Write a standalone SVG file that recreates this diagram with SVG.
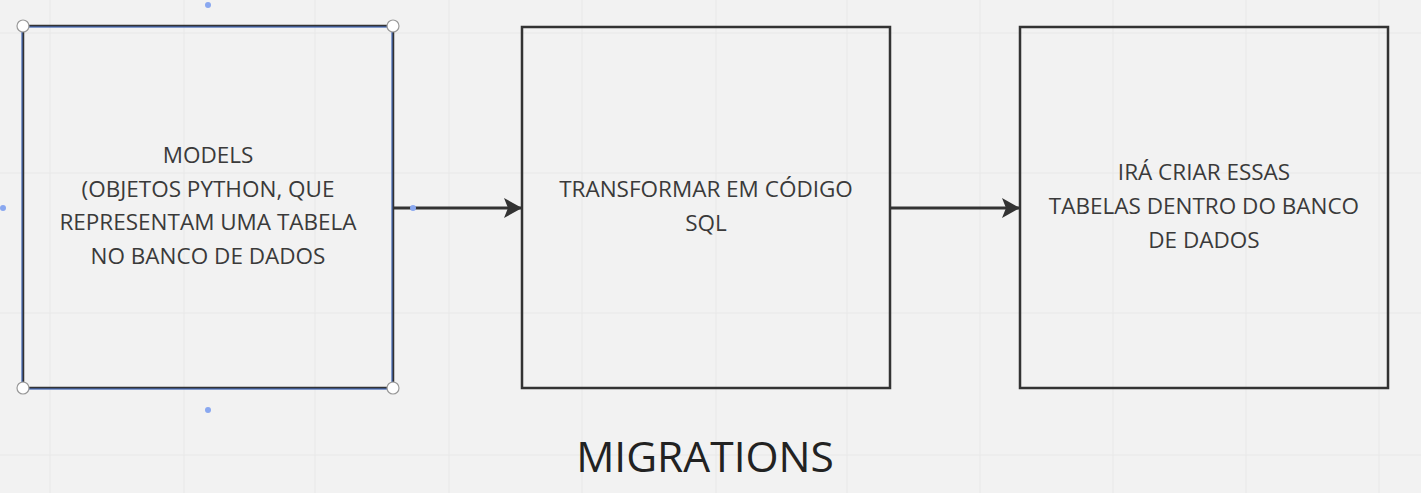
<svg xmlns="http://www.w3.org/2000/svg" width="1421" height="493" viewBox="0 0 1421 493">
<defs>
<style>
.grid line{stroke:#e8e8e8;stroke-width:1}
.box{fill:none;stroke:#333;stroke-width:2.5}
.t{font-family:"Open Sans","Liberation Sans",sans-serif;font-size:22.5px;fill:#3a3a3a;text-anchor:middle}
.title{font-family:"Open Sans","Liberation Sans",sans-serif;font-size:42.5px;fill:#222;text-anchor:middle}
.conn{stroke:#333;stroke-width:3;fill:none}
.handle{fill:#fff;stroke:#999;stroke-width:1.2}
.dot{fill:#8aa8f0}
</style>
<marker id="ah" viewBox="0 0 18 20" refX="17" refY="10" markerWidth="18" markerHeight="20" orient="auto" markerUnits="userSpaceOnUse">
<path d="M0,0 L18,10 L0,20 L4,10 Z" fill="#333"/>
</marker>
</defs>
<rect width="1421" height="493" fill="#f2f2f2"/>
<g class="grid">
<line x1="50" y1="0" x2="50" y2="493"/>
<line x1="184" y1="0" x2="184" y2="493"/>
<line x1="315" y1="0" x2="315" y2="493"/>
<line x1="449" y1="0" x2="449" y2="493"/>
<line x1="582" y1="0" x2="582" y2="493"/>
<line x1="716" y1="0" x2="716" y2="493"/>
<line x1="847" y1="0" x2="847" y2="493"/>
<line x1="980" y1="0" x2="980" y2="493"/>
<line x1="1113" y1="0" x2="1113" y2="493"/>
<line x1="1246" y1="0" x2="1246" y2="493"/>
<line x1="1379" y1="0" x2="1379" y2="493"/>
<line x1="0" y1="33" x2="1421" y2="33"/>
<line x1="0" y1="173" x2="1421" y2="173"/>
<line x1="0" y1="313" x2="1421" y2="313"/>
<line x1="0" y1="455" x2="1421" y2="455"/>
</g>
<g id="connectors">
<line class="conn" x1="393" y1="208" x2="521" y2="208" marker-end="url(#ah)"/>
<line class="conn" x1="890" y1="208" x2="1019" y2="208" marker-end="url(#ah)"/>
</g>
<g id="node-models">
<rect class="box" x="23" y="26" width="370" height="362" stroke="#1f3a7a"/>
<rect x="23" y="26" width="370" height="362" fill="none" stroke="#4a78d8" stroke-width="1" transform="translate(-1,1)"/>
<text class="t" x="208" y="163">MODELS</text>
<text class="t" x="208" y="197">(OBJETOS PYTHON, QUE</text>
<text class="t" x="208" y="230">REPRESENTAM UMA TABELA</text>
<text class="t" x="208" y="264">NO BANCO DE DADOS</text>
<circle class="handle" cx="23" cy="26" r="6"/>
<circle class="handle" cx="393" cy="26" r="6"/>
<circle class="handle" cx="23" cy="388" r="6"/>
<circle class="handle" cx="393" cy="388" r="6"/>
<circle class="dot" cx="208" cy="5" r="3"/>
<circle class="dot" cx="3" cy="208" r="3"/>
<circle class="dot" cx="208" cy="410" r="3"/>
<circle class="dot" cx="413" cy="208" r="3"/>
</g>
<g id="node-transformar">
<rect class="box" x="522" y="27" width="368" height="361"/>
<text class="t" x="706" y="197">TRANSFORMAR EM CÓDIGO</text>
<text class="t" x="706" y="231">SQL</text>
</g>
<g id="node-criar">
<rect class="box" x="1020" y="27" width="368" height="361"/>
<text class="t" x="1204" y="180">IRÁ CRIAR ESSAS</text>
<text class="t" x="1204" y="214">TABELAS DENTRO DO BANCO</text>
<text class="t" x="1204" y="248">DE DADOS</text>
</g>
<g id="title">
<text class="title" x="705" y="472">MIGRATIONS</text>
</g>
</svg>
